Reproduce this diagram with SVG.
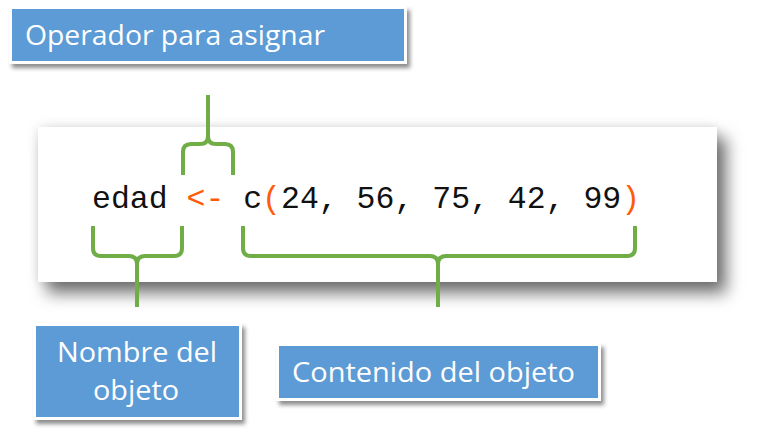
<svg xmlns="http://www.w3.org/2000/svg" width="781" height="444" viewBox="0 0 781 444">
<defs>
<filter id="panelShadow" x="-10%" y="-30%" width="125%" height="170%">
<feDropShadow dx="0" dy="0" stdDeviation="6" flood-color="#000" flood-opacity="0.12"/>
<feDropShadow dx="9" dy="11" stdDeviation="8" flood-color="#000" flood-opacity="0.55"/>
</filter>
<filter id="boxShadow" x="-10%" y="-20%" width="125%" height="150%">
<feDropShadow dx="3" dy="4" stdDeviation="2" flood-color="#000" flood-opacity="0.45"/>
</filter>
</defs>
<style>
.box{fill:#5B9BD5;stroke:#fff;stroke-width:3}
.lbl{font-family:"Open Sans","Noto Sans",sans-serif;font-size:28px;fill:#fff}
.code{font-family:"Liberation Mono","DejaVu Sans Mono",monospace;font-size:31.5px;fill:#111}
.op{fill:#FF5A0A}
.brace{fill:none;stroke:#70AD47;stroke-width:4;stroke-linecap:butt;stroke-linejoin:round}
</style>
<rect width="781" height="444" fill="#fff"/>
<g id="code-panel">
<rect x="38" y="127" width="679" height="155" fill="#fff" filter="url(#panelShadow)"/>
<text class="code" y="208"><tspan x="92">edad</tspan><tspan class="op" x="186.5">&lt;-</tspan><tspan x="243.2">c</tspan><tspan class="op" x="262.1">(</tspan><tspan x="281">24, 56, 75, 42, 99</tspan><tspan class="op" x="621.2">)</tspan></text>
</g>
<g id="connectors">
<path class="brace" d="M183,175 V152 Q183,144 191,144 H200 Q208,144 208,136 V95 M233,175 V152 Q233,144 225,144 H216 Q208,144 208,136"/>
<path class="brace" d="M93,226 V248 Q93,256 101,256 H129 Q137,256 137,264 V307 M182,226 V248 Q182,256 174,256 H145 Q137,256 137,264"/>
<path class="brace" d="M243,226 V248 Q243,256 251,256 H430 Q438,256 438,264 V307 M635,226 V248 Q635,256 627,256 H446 Q438,256 438,264"/>
</g>
<g id="node-operador">
<rect class="box" x="10.5" y="7.5" width="395" height="55" filter="url(#boxShadow)"/>
<text class="lbl" x="25" y="45" textLength="300" lengthAdjust="spacingAndGlyphs">Operador para asignar</text>
</g>
<g id="node-nombre">
<rect class="box" x="34.5" y="324.5" width="206" height="94" filter="url(#boxShadow)"/>
<text class="lbl" x="57" y="362" textLength="160" lengthAdjust="spacingAndGlyphs">Nombre del</text>
<text class="lbl" x="93" y="400" textLength="86" lengthAdjust="spacingAndGlyphs">objeto</text>
</g>
<g id="node-contenido">
<rect class="box" x="277.5" y="344.5" width="322" height="55" filter="url(#boxShadow)"/>
<text class="lbl" x="292" y="382" textLength="283" lengthAdjust="spacingAndGlyphs">Contenido del objeto</text>
</g>
</svg>
